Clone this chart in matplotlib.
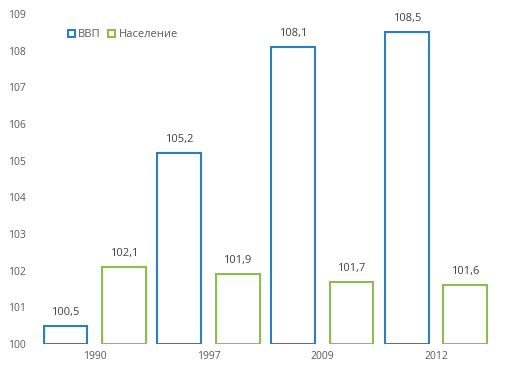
import numpy as np
import matplotlib
matplotlib.use("Agg")
import matplotlib.pyplot as plt
from matplotlib.patches import Patch

years = ["1990", "1997", "2009", "2012"]
gdp = [100.5, 105.2, 108.1, 108.5]
population = [102.1, 101.9, 101.7, 101.6]
series_names = ["ВВП", "Население"]

BLUE = "#2A7FC0"
GREEN = "#8CBD4F"
TEXT = "#595959"

plt.rcParams["font.family"] = ["Open Sans", "DejaVu Sans"]

fig = plt.figure(figsize=(5.08, 3.75), dpi=100)
ax = fig.add_axes([40 / 508, 31 / 375, 452 / 508, 330 / 375])

x = np.arange(len(years))
width = 0.386
offset = 0.256

for vals, color, sign in [(gdp, BLUE, -1), (population, GREEN, 1)]:
    ax.bar(x + sign * offset, np.array(vals) - 100, width, bottom=100,
           facecolor="none", edgecolor=color, linewidth=1.5)
    for xi, v in zip(x + sign * offset, vals):
        ax.text(xi, v + 0.22, f"{v:.1f}".replace(".", ","), ha="center",
                va="bottom", fontsize=8, color="#404040")

ax.set_ylim(100, 109)
ax.set_xlim(-0.48, 3.49)
ax.set_yticks(range(100, 110))
ax.set_xticks(x)
ax.set_xticklabels(years)
ax.tick_params(axis="both", length=0, labelsize=7.5, labelcolor=TEXT)
ax.tick_params(axis="y", pad=10)
ax.tick_params(axis="x", pad=5)
for s in ax.spines.values():
    s.set_visible(False)

handles = [Patch(facecolor="none", edgecolor=BLUE, linewidth=1.5),
           Patch(facecolor="none", edgecolor=GREEN, linewidth=1.5)]
ax.legend(handles, series_names, loc="upper left",
          bbox_to_anchor=(0.04, 0.985), ncol=2, frameon=False,
          fontsize=8, handlelength=0.6, handleheight=0.6,
          handletextpad=0.3, columnspacing=0.7, labelcolor=TEXT)

fig.savefig("out.png", dpi=100)
